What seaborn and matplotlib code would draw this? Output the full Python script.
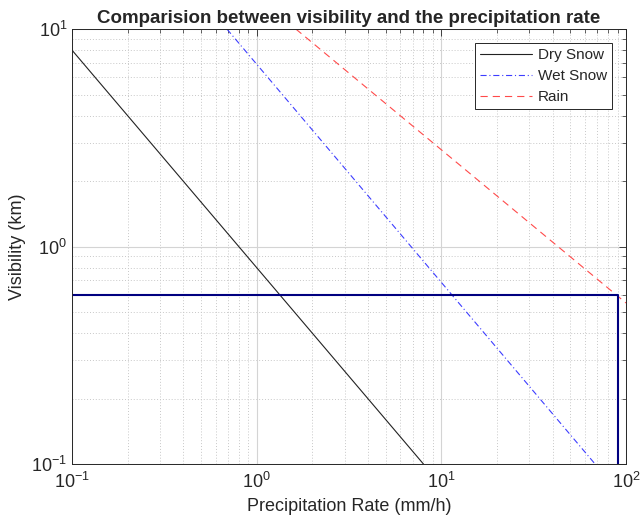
import numpy as np
import pandas as pd
import matplotlib
matplotlib.use("Agg")
import matplotlib.pyplot as plt
import seaborn as sns
from matplotlib.ticker import LogLocator, NullFormatter

# Data (straight lines on log-log axes, endpoints)
dry_rate = [0.1, 8.0]
dry_vis = [8.0, 0.1]
wet_rate = [0.69, 68.0]
wet_vis = [10.0, 0.1]
rain_rate = [1.63, 100.0]
rain_vis = [10.0, 0.55]
limit_rate = [0.1, 90.0, 90.0]
limit_vis = [0.6, 0.6, 0.1]

series_names = ["Dry Snow", "Wet Snow", "Rain"]

sns.set_style("white")
plt.rcParams['font.family'] = ['Liberation Sans', 'DejaVu Sans']

fig = plt.figure(figsize=(6.41, 5.28), dpi=100)
ax = fig.add_axes([0.1123, 0.1212, 0.8643, 0.8238])

df_dry = pd.DataFrame({"rate": dry_rate, "vis": dry_vis})
df_wet = pd.DataFrame({"rate": wet_rate, "vis": wet_vis})
df_rain = pd.DataFrame({"rate": rain_rate, "vis": rain_vis})
df_lim = pd.DataFrame({"rate": limit_rate, "vis": limit_vis})

sns.lineplot(data=df_dry, x="rate", y="vis", ax=ax, color="#222222", lw=0.8,
             label=series_names[0], sort=False, estimator=None)
sns.lineplot(data=df_wet, x="rate", y="vis", ax=ax, color="#3d3dff", lw=0.8,
             linestyle=(0, (5.5, 2.5, 1, 2.5)), label=series_names[1],
             sort=False, estimator=None)
sns.lineplot(data=df_rain, x="rate", y="vis", ax=ax, color="#ff4a4a", lw=0.8,
             linestyle=(0, (6.5, 4.5)), label=series_names[2], sort=False,
             estimator=None)
sns.lineplot(data=df_lim, x="rate", y="vis", ax=ax, color="#000080", lw=1.5,
             sort=False, estimator=None, legend=False)

ax.set_xscale("log")
ax.set_yscale("log")
ax.set_xlim(0.1, 100)
ax.set_ylim(0.1, 10)

ax.xaxis.set_major_locator(LogLocator(base=10, numticks=10))
ax.yaxis.set_major_locator(LogLocator(base=10, numticks=10))
ax.xaxis.set_minor_locator(LogLocator(base=10, subs=np.arange(2, 10), numticks=20))
ax.yaxis.set_minor_locator(LogLocator(base=10, subs=np.arange(2, 10), numticks=20))
ax.xaxis.set_minor_formatter(NullFormatter())
ax.yaxis.set_minor_formatter(NullFormatter())

ax.grid(True, which="major", color="#d4d4d4", lw=0.8, ls="-")
ax.grid(True, which="minor", color="#c8c8c8", lw=0.7, ls=(0, (1, 2)))
ax.set_axisbelow(True)

for s in ax.spines.values():
    s.set_visible(True)
    s.set_color("#262626")
    s.set_linewidth(0.7)

ax.tick_params(which="both", direction="in", top=True, right=True,
               colors="#262626", labelsize=13, labelcolor="#262626")
ax.tick_params(which="major", length=5, width=0.6)
ax.tick_params(which="minor", length=3, width=0.5)
ax.tick_params(axis="x", pad=6)

ax.set_xlabel("Precipitation Rate (mm/h)", fontsize=13, color="#262626")
ax.set_ylabel("Visibility (km)", fontsize=13, color="#262626")
ax.set_title("Comparision between visibility and the precipitation rate",
             fontsize=13.5, fontweight="bold", pad=4)

leg = ax.legend(loc="upper right", fontsize=11, frameon=True, fancybox=False,
                edgecolor="#262626", framealpha=1, borderpad=0.35,
                handlelength=3.4, handletextpad=0.35, labelspacing=0.45,
                borderaxespad=0.9)
leg.get_frame().set_linewidth(0.7)

fig.savefig("out.png", dpi=100, facecolor="white")
